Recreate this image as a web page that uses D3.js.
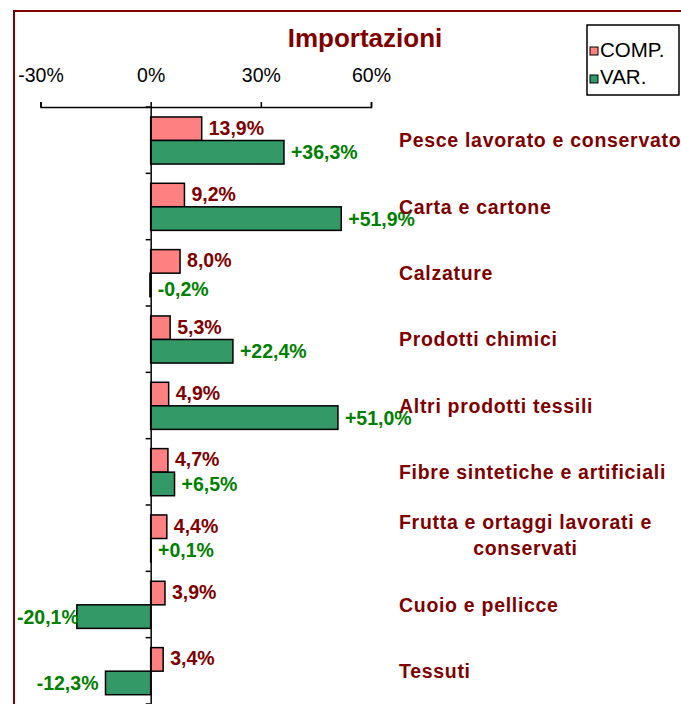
<!DOCTYPE html>
<html>
<head>
<meta charset="utf-8">
<script src="https://cdn.jsdelivr.net/npm/d3@7"></script>
<style>
	body { margin: 0; background: #fff; }
	svg { display: block; font-family: "Liberation Sans", Arial, sans-serif; }
</style>
</head>
<body>
<svg width="681" height="704"></svg>
<script>
// values
let categories = [
	'Pesce lavorato e conservato',
	'Carta e cartone',
	'Calzature',
	'Prodotti chimici',
	'Altri prodotti tessili',
	'Fibre sintetiche e artificiali',
	'Frutta e ortaggi lavorati e\nconservati',
	'Cuoio e pellicce',
	'Tessuti'
]
let comp = [13.9, 9.2, 8.0, 5.3, 4.9, 4.7, 4.4, 3.9, 3.4]
let variation = [36.3, 51.9, -0.2, 22.4, 51.0, 6.5, 0.1, -20.1, -12.3]
let tickValues = [-30, 0, 30, 60]
let seriesNames = ['COMP.', 'VAR.']

let darkRed = '#800000'
let pink = '#ff8080'
let green = '#339966'
let greenText = '#008000'

let svg = d3.select('svg')

// frame of the chart area
svg.append('path')
	.attr('d', 'M14,704 V11 H681')
	.attr('fill', 'none')
	.attr('stroke', darkRed)
	.attr('stroke-width', 2)

svg.append('text')
	.attr('x', 365)
	.attr('y', 47)
	.attr('text-anchor', 'middle')
	.attr('fill', darkRed)
	.attr('font-weight', 'bold')
	.attr('font-size', 26)
	.text('Importazioni')

let x = d3.scaleLinear().domain([-30, 60]).range([40.5, 371])
let y = d3.scaleBand().domain(categories).range([107, 704])
let bw = y.bandwidth()
let sub = d3.scaleBand().domain(seriesNames).range([bw * 0.15, bw * 0.86])

// top axis
let xAxis = d3.axisTop(x)
	.tickValues(tickValues)
	.tickSize(5)
	.tickFormat(d => d + '%')
let gx = svg.append('g').attr('transform', 'translate(0,107)').call(xAxis)
gx.select('.domain').attr('stroke', '#000').attr('stroke-width', 1.5)
gx.selectAll('.tick line').attr('stroke', '#000').attr('stroke-width', 1.5)
gx.selectAll('.tick text')
	.attr('y', -25)
	.attr('font-size', 19.5)
	.attr('font-family', '"Liberation Sans", Arial, sans-serif')
	.attr('fill', '#000')

let rows = categories.map((c, i) => ({cat: c, comp: comp[i], variation: variation[i]}))

let fmt = v => d3.format('.1f')(Math.abs(v)).replace('.', ',') + '%'

let bars = svg.append('g')
rows.forEach(r => {
	let y0 = y(r.cat)
	bars.append('rect')
		.attr('x', x(Math.min(0, r.comp)))
		.attr('y', y0 + sub('COMP.'))
		.attr('width', Math.abs(x(r.comp) - x(0)))
		.attr('height', sub.bandwidth())
		.attr('fill', pink)
		.attr('stroke', '#000')
		.attr('stroke-width', 1.5)
	bars.append('rect')
		.attr('x', x(Math.min(0, r.variation)))
		.attr('y', y0 + sub('VAR.'))
		.attr('width', Math.abs(x(r.variation) - x(0)))
		.attr('height', sub.bandwidth())
		.attr('fill', green)
		.attr('stroke', '#000')
		.attr('stroke-width', 1.5)
})

// zero line with category ticks
let yAxis = d3.axisLeft(y).tickSize(0).tickFormat('')
let gy = svg.append('g').attr('transform', 'translate(' + x(0) + ',0)').call(yAxis)
gy.select('.domain').attr('stroke', '#000').attr('stroke-width', 1.5)
gy.selectAll('.sep')
	.data(categories.map(c => y(c)).concat([704]))
	.join('line')
	.attr('class', 'sep')
	.attr('x1', -5).attr('x2', 0)
	.attr('y1', d => d).attr('y2', d => d)
	.attr('stroke', '#000')
	.attr('stroke-width', 1.5)

// value labels
let labels = svg.append('g')
	.attr('font-weight', 'bold')
	.attr('font-size', 19.5)
rows.forEach(r => {
	let y0 = y(r.cat)
	labels.append('text')
		.attr('x', x(Math.max(0, r.comp)) + 7)
		.attr('y', y0 + sub('COMP.') + sub.bandwidth() / 2 + 6)
		.attr('fill', darkRed)
		.text(fmt(r.comp))
	let t = labels.append('text')
		.attr('y', y0 + sub('VAR.') + sub.bandwidth() / 2 + 7)
		.attr('fill', greenText)
		.text((r.variation >= 0 ? '+' : '-') + fmt(r.variation))
	if (r.variation > -5) {
		t.attr('x', x(Math.max(0, r.variation)) + 7)
		if (r.variation < 0) t.attr('y', y0 + sub('VAR.') + sub.bandwidth() / 2 + 11)
	} else {
		let w = t.node().getComputedTextLength()
		let left = Math.max(x(r.variation) - 7 - w, 17)
		t.attr('x', left)
	}
})

// category labels
let catG = svg.append('g')
	.attr('font-weight', 'bold')
	.attr('font-size', 19.5)
	.attr('letter-spacing', 0.7)
	.attr('fill', darkRed)
categories.forEach(c => {
	let lines = c.split('\n')
	let cy = y(c) + bw / 2
	let first = null
	lines.forEach((line, i) => {
		let t = catG.append('text')
			.attr('x', 399)
			.attr('y', cy + (i - (lines.length - 1) / 2) * 26 + 7 - (lines.length > 1 ? 3 : 0))
			.text(line)
		if (i == 0) {
			first = t.node().getComputedTextLength()
		} else {
			t.attr('text-anchor', 'middle').attr('x', 399 + first / 2)
		}
	})
})

// legend
let legend = svg.append('g')
legend.append('rect')
	.attr('x', 587).attr('y', 25)
	.attr('width', 92).attr('height', 70)
	.attr('fill', '#fff')
	.attr('stroke', '#000')
	.attr('stroke-width', 1.5)
let legendColors = [pink, green]
seriesNames.forEach((name, i) => {
	legend.append('rect')
		.attr('x', 590).attr('y', 47 + i * 28)
		.attr('width', 8).attr('height', 8)
		.attr('fill', legendColors[i])
		.attr('stroke', '#000')
		.attr('stroke-width', 1)
	legend.append('text')
		.attr('x', 600).attr('y', 57 + i * 27)
		.attr('font-size', 20.5)
		.attr('fill', '#000')
		.text(name)
})
</script>
</body>
</html>
